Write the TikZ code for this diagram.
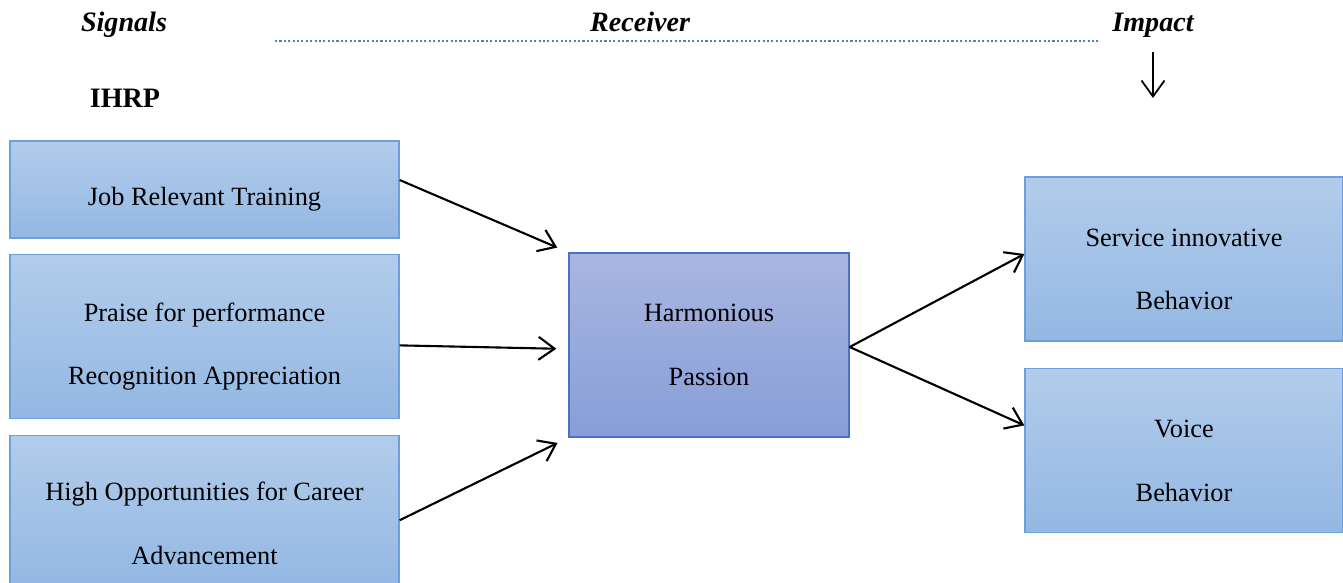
\documentclass[tikz,border=0pt]{standalone}
\usepackage{fontspec}
\setmainfont{Liberation Serif}
\usepackage{xcolor}
\usetikzlibrary{arrows.meta, positioning}

\definecolor{boxtop}{RGB}{178,204,235}
\definecolor{boxbot}{RGB}{147,184,227}
\definecolor{boxline}{RGB}{108,160,218}
\definecolor{hptop}{RGB}{168,182,225}
\definecolor{hpbot}{RGB}{136,158,216}
\definecolor{hpline}{RGB}{76,112,196}
\definecolor{dotblue}{RGB}{79,129,189}

\begin{document}
\begin{tikzpicture}[
    x=0.02cm, y=-0.02cm,
    >={Straight Barb[length=3.2mm, width=4.6mm]},
    % --- box styles ---
    sigbox/.style={
        draw=boxline, line width=0.8pt, top color=boxtop, bottom color=boxbot,
        minimum width=7.78cm, inner sep=0pt, text height=58pt,
        align=center, font=\fontsize{15}{36}\selectfont
    },
    passbox/.style={
        draw=hpline, line width=0.8pt, top color=hptop, bottom color=hpbot,
        minimum width=5.6cm, minimum height=3.68cm, inner sep=0pt,
        align=center, font=\fontsize{15}{36}\selectfont
    },
    outbox/.style={
        draw=boxline, line width=0.8pt, top color=boxtop, bottom color=boxbot,
        minimum width=6.36cm, minimum height=3.28cm, inner sep=0pt, text height=58pt,
        align=center, font=\fontsize{15}{36}\selectfont
    },
    % --- arrows and labels ---
    flow/.style={->, line width=1.2pt, color=black},
    headlbl/.style={font=\fontsize{16}{19}\selectfont\bfseries\itshape,
        inner sep=0pt, anchor=base},
    dotline/.style={color=dotblue, line width=1.2pt, dash pattern=on 1.2pt off 1.3pt},
]

\clip (0,0) rectangle (1343,582);

% ---- Header row ----
\node[headlbl] (signals) at (124,31) {Signals};
\node[headlbl] (receiver) at (640,31) {Receiver};
\node[headlbl] (impact) at (1153,31) {Impact};
\node[font=\fontsize{16}{19}\selectfont\bfseries, inner sep=1pt] (ihrp) at (125,98) {IHRP};

\coordinate (dotstart) at (275,41);
\coordinate (impactend) at (1153,98);
\draw[dotline] (dotstart) -- ([xshift=-0.24cm]dotstart -| impact.west);
\draw[->, line width=1pt] ([yshift=-0.3cm]impact.south) -- (impactend);

% ---- Signals (left column) ----
\node[sigbox, minimum height=1.94cm, text height=21pt] (job) at (204.5,189.5)
    {Job Relevant Training};
\node[sigbox, minimum height=3.28cm, below=0.3cm of job] (praise)
    {Praise for performance\\Recognition Appreciation};
\node[sigbox, minimum height=3.0cm, text height=61pt, below=0.32cm of praise] (career)
    {High Opportunities for Career\\Advancement};

% ---- Receiver ----
\node[passbox] (harm) at (709,345) {Harmonious\\Passion};

% ---- Impact (right column) ----
\node[outbox] (service) at (1184,259) {Service innovative\\Behavior};
\node[outbox, below=0.52cm of service] (voice) {Voice\\Behavior};

% ---- Arrows ----
\draw[flow, shorten >=0.24cm] ([yshift=0.19cm]job.east) -- (harm.north west);
\draw[flow, shorten >=0.24cm] ([yshift=-0.18cm]praise.east) -- ([yshift=-0.08cm]harm.west);
\draw[flow, shorten >=0.24cm] ([yshift=-0.19cm]career.east) -- (harm.south west);
\draw[flow] ([yshift=-0.04cm]harm.east) -- ([yshift=0.1cm]service.west);
\draw[flow] ([yshift=-0.04cm]harm.east) -- ([yshift=0.5cm]voice.west);

\end{tikzpicture}
\end{document}
